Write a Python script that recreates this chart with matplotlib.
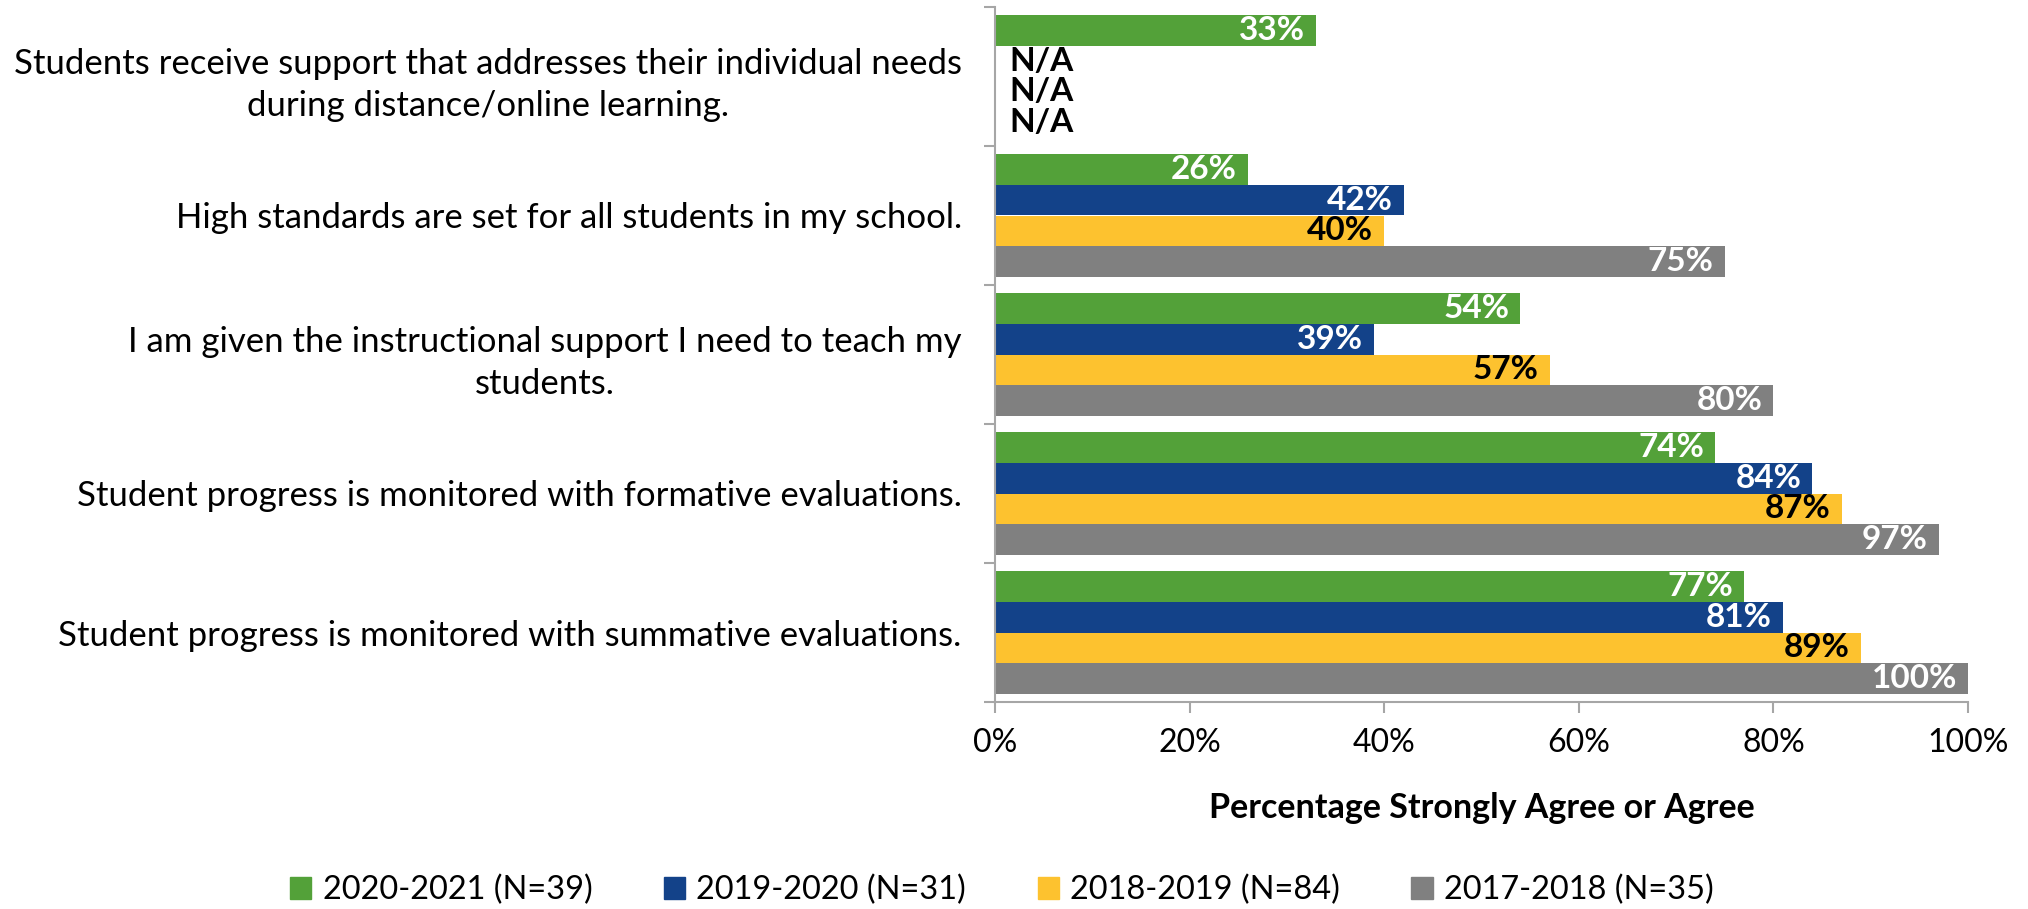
import matplotlib
matplotlib.use("Agg")
import matplotlib.pyplot as plt
import numpy as np
from matplotlib.patches import Patch

plt.rcParams['font.family'] = ['Lato', 'DejaVu Sans']

categories = [
    "Students receive support that addresses their individual needs\nduring distance/online learning.",
    "High standards are set for all students in my school.",
    "I am given the instructional support I need to teach my\nstudents.",
    "Student progress is monitored with formative evaluations.",
    "Student progress is monitored with summative evaluations.",
]
series_names = ["2020-2021 (N=39)", "2019-2020 (N=31)", "2018-2019 (N=84)", "2017-2018 (N=35)"]
v2021 = [33, 26, 54, 74, 77]
v2020 = [None, 42, 39, 84, 81]
v2019 = [None, 40, 57, 87, 89]
v2018 = [None, 75, 80, 97, 100]
series_values = [v2021, v2020, v2019, v2018]
colors = ["#53A139", "#134289", "#FDC22F", "#808080"]
label_colors = ["white", "white", "black", "white"]

fig = plt.figure(figsize=(20.28, 9.09), dpi=100)
ax = fig.add_axes([995/2028, 1 - 702/909, (1968-995)/2028, (702-7)/909])

h = 0.89 / 4
y = np.arange(len(categories))
for k, (vals, col, lc) in enumerate(zip(series_values, colors, label_colors)):
    off = (k - 1.5) * h
    for i, v in enumerate(vals):
        yy = y[i] + off
        if v is None:
            ax.annotate("N/A", (0, yy), xytext=(10, 0), textcoords="offset points",
                        ha="left", va="center", fontsize=24, fontweight="bold", color="black")
            continue
        ax.barh(yy, v, height=h, color=col)
        ax.annotate(f"{v}%", (v, yy), xytext=(-8, 0), textcoords="offset points",
                    ha="right", va="center", fontsize=24, fontweight="bold", color=lc)

ax.set_ylim(len(categories) - 0.5, -0.5)
ax.set_xlim(0, 100)
ax.set_yticks(y)
ax.set_yticklabels(categories, fontsize=25, multialignment="center", linespacing=1.4)
ax.tick_params(axis="y", which="major", length=0, pad=24)
ax.set_yticks(np.arange(-0.5, len(categories)), minor=True)
ax.tick_params(axis="y", which="minor", length=8, color="#A6A6A6", width=1.5)
ax.set_xticks(np.arange(0, 101, 20))
ax.set_xticklabels([f"{t}%" for t in range(0, 101, 20)], fontsize=23)
ax.tick_params(axis="x", length=8, color="#A6A6A6", width=1.5, pad=11)
ax.set_xlabel("Percentage Strongly Agree or Agree", fontsize=24.5, fontweight="bold", labelpad=24)
for s in ["top", "right"]:
    ax.spines[s].set_visible(False)
for s in ["left", "bottom"]:
    ax.spines[s].set_color("#A6A6A6")
    ax.spines[s].set_linewidth(1.5)

handles = [Patch(color=c) for c in colors]
fig.legend(handles, series_names, loc="center", bbox_to_anchor=(0.494, 1 - 890/909), ncol=4,
           frameon=False, fontsize=23.4, handlelength=0.65, handleheight=0.65, columnspacing=2.2,
           handletextpad=0.35)

fig.savefig("out.png", dpi=100)
